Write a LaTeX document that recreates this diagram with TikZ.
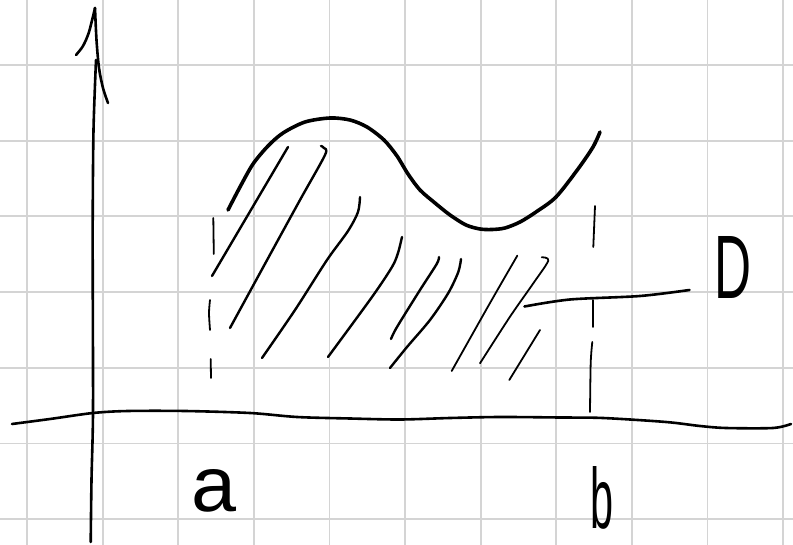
\documentclass[tikz,border=0pt]{standalone}
\usepackage{graphicx}
\usepackage{fontspec}
\setmainfont{Liberation Sans}
\definecolor{gridgray}{RGB}{212,212,212}
\tikzset{
  gridline/.style={draw=gridgray, line width=1.8pt},
  pen/.style={draw=black, line width=2.6pt, line cap=round, line join=round},
  thickpen/.style={draw=black, line width=3.6pt, line cap=round, line join=round},
  hatch/.style={draw=black, line width=2.4pt, line cap=round, line join=round},
  thinhatch/.style={draw=black, line width=1.8pt, line cap=round, line join=round},
  dashpen/.style={draw=black, line width=1.8pt, line cap=round},
  letter/.style={inner sep=0pt, outer sep=0pt}
}
\begin{document}
\begin{tikzpicture}[x=1pt,y=-1pt]
\useasboundingbox (0,0) rectangle (793,545);
\fill[white] (0,0) rectangle (793,545);
% grid
\foreach \gx in {27,102.6,178.2,253.8,329.4,405,480.6,556.2,631.8,707.4,783}
  \draw[gridline] (\gx,0) -- (\gx,545);
\foreach \gy in {65,140.7,216.4,292.1,367.8,443.5,519.2}
  \draw[gridline] (0,\gy) -- (793,\gy);
% y axis with hand-drawn arrow
\draw[pen] plot[smooth] coordinates {(96,60) (93.5,130) (92.7,220) (92.8,300) (93,413) (91.5,480) (90.7,542)};
\draw[pen] plot[smooth] coordinates {(76,55) (83,46) (89,32) (95,8)};
\draw[pen] plot[smooth] coordinates {(95,8) (96.5,40) (99,68) (103,88) (108,103)};
% x axis
\draw[pen] plot[smooth] coordinates {(12,424) (50,419) (93,413) (128,411) (185,411) (250,413) (297,417) (350,418.5) (400,419.5) (450,418) (500,417) (560,417.5) (603,418) (666,422) (700,426) (726,428) (773,428) (791,424)};
% function curve
\draw[thickpen] plot[smooth] coordinates {(228,210) (240,187) (253,164) (268,146) (283,133) (305,122) (330,118) (350,120) (367,127) (384,140) (397,156) (408,174) (420,190) (435,203) (450,215) (466,225) (480,229) (492,229.5) (505,228) (520,222) (536,212) (556,197) (578,169) (593,147) (600,132)};
% dashed verticals at a and b
\draw[dashpen] (213.3,218) -- (213.8,254);
\draw[dashpen] plot[smooth] coordinates {(210,300) (209,313) (210,330)};
\draw[dashpen] (210.7,359) -- (211,378);
\draw[dashpen] (595,206) -- (593.3,247);
\draw[dashpen] (592.7,300) -- (592.7,327);
\draw[dashpen] plot[smooth] coordinates {(592.3,342) (590.7,363) (590,412)};
% hatching
\draw[hatch] (288,147) -- (212,276);
\draw[hatch] plot[smooth] coordinates {(321,146) (324,148) (325,155) (300,200) (266,262) (230,328)};
\draw[hatch] plot[smooth] coordinates {(360,197) (358,212) (348,231) (327,260) (295,310) (262,358)};
\draw[hatch] plot[smooth] coordinates {(402,237) (398,253) (392,267) (372,297) (328,357)};
\draw[hatch] plot[smooth] coordinates {(439,257) (436.7,264) (420,290) (397,327) (391,339)};
\draw[hatch] plot[smooth] coordinates {(461,259) (458.3,272) (448.3,293) (430,320) (407,347) (390,368)};
\draw[thinhatch] plot[smooth] coordinates {(517.3,255.7) (490,303) (451.7,371)};
\draw[thinhatch] plot[smooth] coordinates {(541.7,257.3) (548.3,260.7) (533.3,283.3) (510,316.7) (480,363.3)};
\draw[thinhatch] (540,330) -- (509.3,380);
% labels
\node[letter] (D) at (733.5,267.5) {\resizebox{37pt}{62pt}{D}};
\node[letter] (a) at (214,491) {\resizebox{45pt}{42pt}{a}};
\node[letter] (b) at (601.5,498) {\resizebox{23pt}{62pt}{b}};
% leader line to D
\coordinate (leadA) at (524.5,306.5);
\coordinate (leadB) at (689.5,290);
\draw[pen] plot[smooth] coordinates {(leadA) (570,299.5) (640,296) (leadB)};
\end{tikzpicture}
\end{document}
